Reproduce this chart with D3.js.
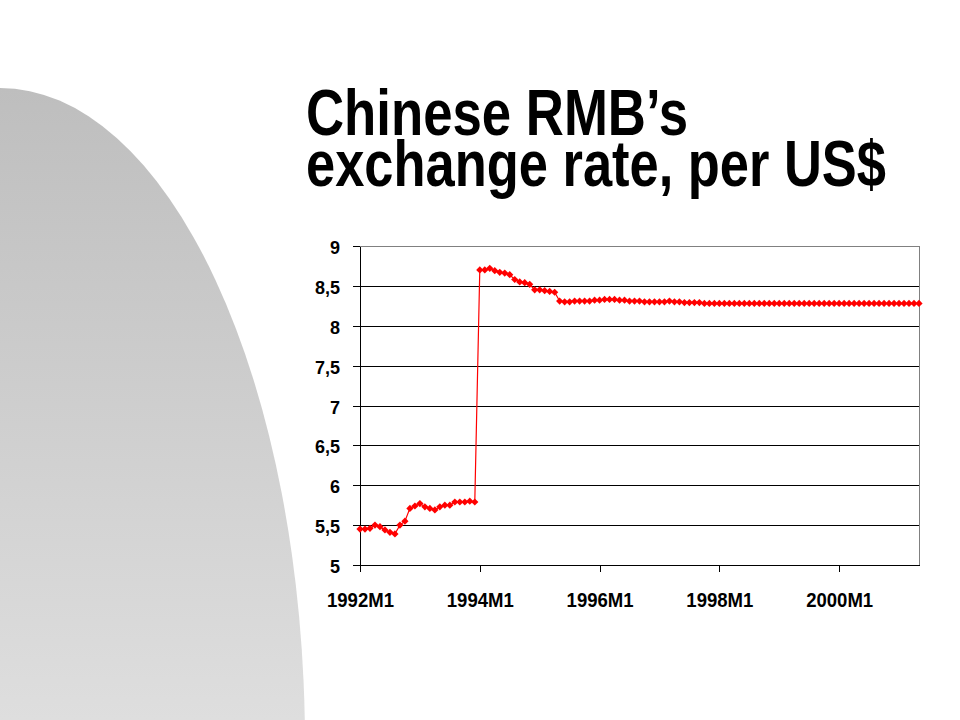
<!doctype html>
<html lang="en">
  <head>
    <meta charset="UTF-8" />
    <title>Chinese RMB's exchange rate, per US$</title>
    <script src="https://d3js.org/d3.v7.min.js"></script>
    <style>
      body {
        margin: 0;
        padding: 0;
        background: #fff;
      }

      text {
        font-family: 'Liberation Sans', Arial, sans-serif;
        font-weight: bold;
      }

      .grid line {
        stroke: #000;
        stroke-width: 1px;
        shape-rendering: crispEdges;
      }

      .axis path,
      .axis line {
        fill: none;
        stroke: #000;
        shape-rendering: crispEdges;
      }

      .axis text {
        fill: #000;
      }

      .line {
        fill: none;
        stroke: #ff0000;
        stroke-width: 1.2px;
      }
    </style>
  </head>
  <body>
    <svg id="chart" width="960" height="720"></svg>

    <script>
      // monthly rates, yuan per US$
      const r1992 = [5.45, 5.45, 5.46, 5.50, 5.48, 5.44, 5.41, 5.39, 5.50, 5.55, 5.71, 5.74];
      const r1993 = [5.77, 5.73, 5.71, 5.69, 5.73, 5.75, 5.75, 5.79, 5.79, 5.79, 5.80, 5.79];
      const r1994 = [8.70, 8.70, 8.72, 8.69, 8.67, 8.66, 8.64, 8.58, 8.55, 8.54, 8.52, 8.45];
      const r1995 = [8.45, 8.44, 8.43, 8.42, 8.31, 8.30, 8.30, 8.31, 8.31, 8.31, 8.31, 8.32];
      const r1996 = [8.32, 8.33, 8.33, 8.33, 8.32, 8.32, 8.31, 8.31, 8.31, 8.30, 8.30, 8.30];
      const r1997 = [8.30, 8.30, 8.31, 8.30, 8.30, 8.29, 8.29, 8.29, 8.29, 8.28, 8.28, 8.28];
      const r1998 = [8.28, 8.28, 8.28, 8.28, 8.28, 8.28, 8.28, 8.28, 8.28, 8.28, 8.28, 8.28];
      const r1999 = [8.28, 8.28, 8.28, 8.28, 8.28, 8.28, 8.28, 8.28, 8.28, 8.28, 8.28, 8.28];
      const r2000 = [8.28, 8.28, 8.28, 8.28, 8.28, 8.28, 8.28, 8.28, 8.28, 8.28, 8.28, 8.28];
      const r2001 = [8.28, 8.28, 8.28, 8.28, 8.28];

      const years = [1992, 1993, 1994, 1995, 1996, 1997, 1998, 1999, 2000, 2001];
      const yearRates = [r1992, r1993, r1994, r1995, r1996, r1997, r1998, r1999, r2000, r2001];
      const tickLabels = ['1992M1', '1994M1', '1996M1', '1998M1', '2000M1'];
      const yTicks = [5, 5.5, 6, 6.5, 7, 7.5, 8, 8.5, 9];
      const titleLines = ['Chinese RMB\u2019s', 'exchange rate, per US$'];

      const data = [];
      years.forEach(function (yr, i) {
        yearRates[i].forEach(function (v, m) {
          data.push({ month: yr + 'M' + (m + 1), value: v });
        });
      });

      const svg = d3.select('#chart');

      // grey rounded shape on the left
      const defs = svg.append('defs');
      const grad = defs
        .append('linearGradient')
        .attr('id', 'shade')
        .attr('gradientUnits', 'userSpaceOnUse')
        .attr('x1', 0)
        .attr('y1', 88)
        .attr('x2', 0)
        .attr('y2', 720);
      grad.append('stop').attr('offset', '0%').attr('stop-color', '#bebebe');
      grad.append('stop').attr('offset', '100%').attr('stop-color', '#dedede');

      svg
        .append('ellipse')
        .attr('cx', 0)
        .attr('cy', 745)
        .attr('rx', 305)
        .attr('ry', 657)
        .attr('fill', 'url(#shade)');

      // title, squeezed to the narrow look of the original
      const titleWidths = [382, 580];
      svg
        .selectAll('.title')
        .data(titleLines)
        .enter()
        .append('text')
        .attr('class', 'title')
        .attr('x', 306)
        .attr('y', function (d, i) {
          return 135 + i * 51;
        })
        .attr('textLength', function (d, i) {
          return titleWidths[i];
        })
        .attr('lengthAdjust', 'spacingAndGlyphs')
        .style('font-size', '65px')
        .text(function (d) {
          return d;
        });

      const margin = { top: 246, left: 360 };
      const width = 560;
      const height = 319;

      const g = svg
        .append('g')
        .attr('transform', `translate(${margin.left},${margin.top})`);

      const x = d3
        .scalePoint()
        .domain(data.map((d) => d.month))
        .range([0, width - 1]);

      const y = d3.scaleLinear().domain([5, 9]).range([height, 0]);

      const locale = d3.formatLocale({
        decimal: ',',
        thousands: '.',
        grouping: [3],
        currency: ['', ''],
      });
      const fmt = locale.format('~g');

      // gridlines
      g.append('g')
        .attr('class', 'grid')
        .selectAll('line')
        .data(yTicks.slice(1, -1))
        .enter()
        .append('line')
        .attr('x1', 0)
        .attr('x2', width)
        .attr('y1', (d) => Math.round(y(d)) + 0.5)
        .attr('y2', (d) => Math.round(y(d)) + 0.5);

      // plot frame: top and right grey
      g.append('path')
        .attr('d', `M0,0.5H${width - 0.5}V${height}`)
        .attr('fill', 'none')
        .attr('stroke', '#808080')
        .style('shape-rendering', 'crispEdges');

      // y axis
      const yAxis = g
        .append('g')
        .attr('class', 'axis')
        .call(
          d3
            .axisLeft(y)
            .tickValues(yTicks)
            .tickSize(7)
            .tickSizeOuter(0)
            .tickPadding(13)
            .tickFormat(fmt),
        );
      yAxis.selectAll('text').style('font-size', '18px').attr('dy', '0.42em');

      // x axis
      const xAxis = g
        .append('g')
        .attr('class', 'axis')
        .attr('transform', `translate(0,${height})`)
        .call(
          d3
            .axisBottom(x)
            .tickValues(tickLabels)
            .tickSize(7)
            .tickSizeOuter(0),
        );
      xAxis.select('.domain').attr('d', `M0,0.5H${width}`);
      xAxis
        .selectAll('text')
        .style('font-size', '20px')
        .attr('y', 42)
        .attr('dy', 0)
        .attr('textLength', 67)
        .attr('lengthAdjust', 'spacingAndGlyphs');

      // series line
      const line = d3
        .line()
        .x((d) => x(d.month))
        .y((d) => y(d.value));

      g.append('path').datum(data).attr('class', 'line').attr('d', line);

      // diamond markers
      const diamond = d3.symbol().type(d3.symbolSquare).size(26);
      g.selectAll('.marker')
        .data(data)
        .enter()
        .append('path')
        .attr('class', 'marker')
        .attr('d', diamond)
        .attr('fill', '#ff0000')
        .attr('transform', (d) => `translate(${x(d.month)},${y(d.value)}) rotate(45)`);
    </script>
  </body>
</html>
